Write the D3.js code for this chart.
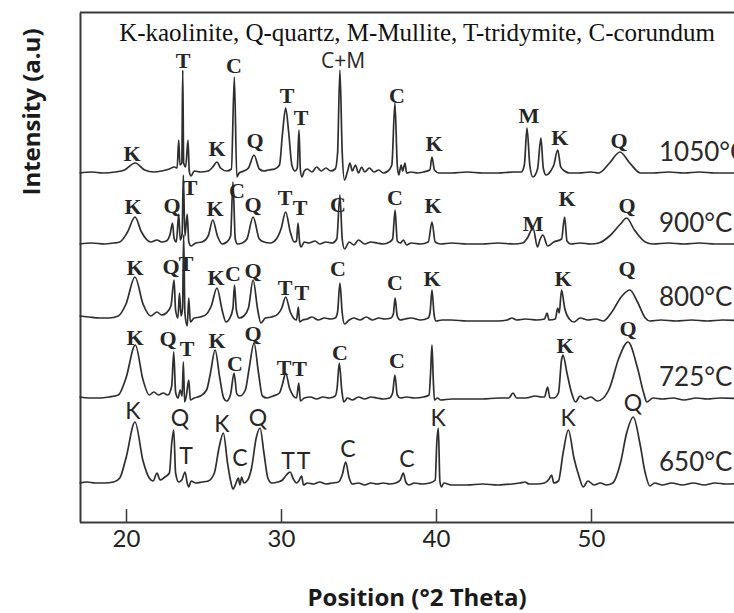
<!DOCTYPE html>
<html>
<head>
<meta charset="utf-8">
<script src="https://cdn.jsdelivr.net/npm/d3@7"></script>
<style>
  body { margin: 0; background: #fff; }
  svg { display: block; }
</style>
</head>
<body>
<svg id="chart" width="734" height="613"></svg>
<script>
// ---- data: [2theta, intensity above the trace baseline] ----
var temps = ['1050°C', '900°C', '800°C', '725°C', '650°C'];
var offsets = [349, 278, 204, 124, 39]; // vertical stacking of each pattern (a.u.)

var t1050 = [
  [17.0,0],[17.8,1],[18.5,0],[19.3,1],[19.9,3],[20.6,10],[21.2,3],[21.8,1],[22.3,2],[22.8,4],
  [23.1,6],[23.3,5],[23.4,33],[23.48,8],[23.6,10],[23.66,103],[23.72,10],[23.85,6],[24.0,33],[24.08,2],
  [24.2,-3],[24.4,2],[24.8,1],[25.3,2],[25.6,6],[25.87,11],[26.1,5],[26.5,2],[26.8,4],[26.99,96],
  [27.15,-4],[27.3,0],[27.6,2],[27.9,5],[28.26,18],[28.6,4],[28.9,2],[29.2,3],[29.6,4],[29.9,8],
  [30.1,40],[30.3,65],[30.5,40],[30.7,8],[30.9,2],[31.05,5],[31.16,43],[31.25,3],[31.35,-4],[31.5,2],
  [31.7,4],[32.0,1],[32.3,6],[32.6,2],[32.9,5],[33.2,2],[33.5,4],[33.65,20],[33.8,103],[33.95,20],
  [34.1,-7],[34.3,2],[34.45,10],[34.6,2],[34.8,8],[35.0,0],[35.2,6],[35.4,1],[35.7,5],[36.0,1],
  [36.3,3],[36.6,0],[36.9,2],[37.15,8],[37.35,70],[37.5,8],[37.6,-2],[37.75,8],[37.85,2],[38.0,10],
  [38.1,0],[38.4,1],[38.8,0],[39.2,1],[39.6,3],[39.74,16],[39.9,3],[40.2,0],[41,0],[42,1],
  [43,0],[44,0],[45,1],[45.5,1],[45.7,8],[45.87,45],[46.05,8],[46.25,-4],[46.55,4],[46.77,35],
  [46.92,5],[47.1,-2],[47.4,2],[47.6,8],[47.85,23],[48.05,6],[48.3,2],[48.6,0],[49.2,0],[50,1],
  [50.5,0],[51.2,10],[51.87,21],[52.5,10],[53.2,0],[54,0],[55,1],[56,0],[57,1],[58,0],[60,0]
];
var t900 = [
  [17.0,0],[17.8,1],[18.6,0],[19.2,1],[19.6,2],[20.1,12],[20.58,27],[21.0,12],[21.6,2],[22.0,4],
  [22.3,2],[22.6,3],[22.85,10],[23.0,21],[23.1,6],[23.25,2],[23.4,30],[23.5,4],[23.62,10],[23.7,69],
  [23.8,8],[23.95,30],[24.05,2],[24.2,-2],[24.5,1],[24.9,2],[25.3,8],[25.6,24],[25.9,8],[26.2,0],
  [26.5,2],[26.75,8],[26.9,62],[27.05,5],[27.2,0],[27.5,1],[27.8,5],[28.2,27],[28.6,5],[28.9,2],
  [29.3,1],[29.7,5],[30.0,15],[30.3,32],[30.6,12],[30.85,2],[31.0,3],[31.1,21],[31.2,2],[31.3,-3],
  [31.5,2],[31.8,1],[32.2,3],[32.5,0],[32.9,2],[33.3,1],[33.6,5],[33.8,49],[33.95,5],[34.1,-5],
  [34.4,2],[34.7,-1],[35.0,4],[35.4,0],[35.8,2],[36.2,1],[36.6,0],[37.0,2],[37.2,5],[37.36,34],
  [37.5,3],[37.7,1],[37.9,4],[38.1,-1],[38.4,1],[39.0,0],[39.5,2],[39.74,22],[39.95,2],[40.3,0],
  [41,1],[42,0],[43,0],[44,1],[45,0],[45.6,1],[45.9,6],[46.26,16],[46.55,-3],[46.7,4],
  [46.9,9],[47.2,-2],[47.6,2],[48.1,5],[48.3,27],[48.45,3],[48.7,0],[49.3,1],[50,0],[50.5,1],
  [51.2,8],[51.9,20],[52.3,26],[52.8,14],[53.5,2],[54,0],[55,1],[56,0],[57,1],[58,0],[60,0]
];
var t800 = [
  [17.0,2],[17.6,1],[18.3,0],[18.9,0],[19.5,2],[20.0,14],[20.58,41],[21.1,14],[21.6,2],[22.0,6],
  [22.3,3],[22.6,5],[22.9,12],[23.1,38],[23.2,8],[23.35,0],[23.45,25],[23.55,2],[23.65,10],[23.72,83],
  [23.8,5],[23.95,-8],[24.05,20],[24.15,-4],[24.4,0],[24.8,1],[25.2,4],[25.5,12],[25.87,30],[26.2,8],
  [26.45,-4],[26.7,0],[26.9,10],[27.0,33],[27.12,8],[27.3,0],[27.6,2],[27.9,10],[28.2,38],[28.5,8],
  [28.7,-5],[29.0,0],[29.4,1],[29.8,4],[30.05,10],[30.3,21],[30.6,6],[30.8,0],[31.0,-2],[31.12,11],
  [31.2,-4],[31.4,-2],[31.7,-1],[32.0,1],[32.4,-2],[32.8,0],[33.2,-1],[33.5,0],[33.65,6],[33.8,35],
  [33.95,5],[34.1,-6],[34.4,-2],[34.7,0],[35.1,-2],[35.5,1],[35.9,-2],[36.3,0],[36.7,-1],[37.1,0],
  [37.25,4],[37.36,20],[37.5,2],[37.7,-2],[38.0,-1],[38.4,0],[39.0,-2],[39.5,0],[39.62,6],[39.74,28],
  [39.88,3],[40.0,-3],[40.4,-2],[41,-2],[42,-3],[43,-3],[44,-3],[44.6,-2],[44.9,0],[45.2,-2],
  [45.8,-1],[46.5,-2],[47.0,-1],[47.16,5],[47.3,-2],[47.7,-1],[47.85,10],[47.95,5],[48.1,28],[48.3,10],
  [48.6,-1],[48.9,-4],[49.3,0],[49.8,-2],[50.3,-1],[50.8,-3],[51.3,5],[52.0,22],[52.5,28],[53.0,16],
  [53.5,0],[53.8,-3],[54.5,-2],[55.5,-3],[56.5,-2],[57.5,-3],[58.5,-2],[60,-3]
];
var t725 = [
  [17.0,1],[17.6,0],[18.3,0],[18.9,1],[19.5,3],[20.0,20],[20.6,53],[21.1,18],[21.5,3],[21.8,6],
  [22.1,3],[22.4,5],[22.7,3],[22.95,12],[23.08,46],[23.2,6],[23.35,0],[23.5,8],[23.62,2],[23.7,36],
  [23.78,-4],[23.9,3],[24.05,18],[24.15,-2],[24.4,0],[24.8,2],[25.2,8],[25.45,25],[25.75,48],[26.05,20],
  [26.3,0],[26.5,-3],[26.75,4],[26.97,25],[27.15,4],[27.35,2],[27.7,8],[27.95,30],[28.26,55],[28.55,25],
  [28.8,2],[29.1,0],[29.5,2],[29.9,5],[30.1,14],[30.3,25],[30.55,10],[30.8,2],[31.0,0],[31.15,15],
  [31.25,-3],[31.5,0],[31.9,1],[32.3,-1],[32.7,1],[33.1,0],[33.5,2],[33.62,10],[33.76,35],[33.92,8],
  [34.05,-4],[34.3,0],[34.6,-2],[35.0,1],[35.4,-1],[35.8,1],[36.2,0],[36.6,-1],[37.0,0],[37.2,5],
  [37.35,23],[37.5,3],[37.7,0],[38.1,1],[38.6,0],[39.2,1],[39.55,3],[39.65,25],[39.74,53],[39.82,20],
  [39.9,-2],[40.1,0],[40.3,-2],[41,-1],[42,-1],[43,-1],[44.0,0],[44.7,0],[44.97,5],[45.2,0],
  [45.8,0],[46.4,2],[46.8,1],[47.0,1],[47.2,11],[47.35,0],[47.6,0],[47.9,5],[48.1,38],[48.19,43],
  [48.45,25],[48.75,5],[49.0,-4],[49.3,2],[49.6,-1],[50.0,1],[50.4,-3],[50.8,0],[51.2,10],[51.8,40],
  [52.39,56],[53.0,30],[53.4,5],[53.6,-4],[54,0],[54.6,-1],[55.3,0],[56,-2],[56.8,0],[57.5,-1],
  [58.3,0],[60,-1]
];
var t650 = [
  [17.0,0],[17.5,1],[18.0,0],[18.6,0],[19.2,1],[19.6,5],[20.0,25],[20.58,61],[21.1,22],[21.5,5],
  [21.75,2],[22.0,10],[22.2,3],[22.5,6],[22.8,10],[22.95,40],[23.08,53],[23.2,10],[23.4,1],[23.6,3],
  [23.81,11],[23.95,0],[24.05,-4],[24.2,2],[24.5,0],[24.9,1],[25.3,2],[25.7,10],[26.0,35],[26.28,50],
  [26.55,20],[26.75,2],[26.9,-6],[27.1,0],[27.25,5],[27.35,-2],[27.46,6],[27.6,0],[27.85,3],[28.1,15],
  [28.4,45],[28.65,55],[28.9,30],[29.15,5],[29.4,0],[29.8,1],[30.1,3],[30.35,8],[30.58,11],[30.8,4],
  [31.0,0],[31.15,2],[31.33,7],[31.45,-2],[31.7,0],[32.1,-1],[32.5,1],[32.9,-1],[33.3,0],[33.7,1],
  [33.95,8],[34.17,21],[34.4,5],[34.6,-1],[35.0,0],[35.4,-2],[35.8,0],[36.2,-1],[36.6,0],[37.0,-1],
  [37.4,0],[37.7,3],[37.89,10],[38.05,1],[38.25,-2],[38.6,0],[39.1,-1],[39.6,0],[39.95,3],[40.05,40],
  [40.15,55],[40.25,2],[40.35,-4],[40.5,0],[41,-2],[42,-2],[43,-1],[44,-2],[44.9,-1],[45.4,0],
  [45.74,1],[46.0,-1],[46.5,-1],[47.0,0],[47.3,4],[47.46,8],[47.6,0],[47.9,2],[48.2,30],[48.54,53],
  [48.9,25],[49.2,8],[49.5,-4],[49.8,2],[50.2,-2],[50.6,0],[51.0,-2],[51.4,0],[51.9,20],[52.3,50],
  [52.73,66],[53.15,40],[53.5,10],[53.8,-3],[54.1,0],[54.6,-2],[55.2,0],[55.9,-2],[56.6,0],[57.3,-2],
  [58,0],[58.7,-1],[60,0]
];
var patterns = [t1050, t900, t800, t725, t650];

// peak labels: [phase, 2theta, height (a.u., same units as the y scale)]
var labels1050 = [['K',20.39,369],['T',23.68,462],['K',25.87,374],['C',26.97,457],['Q',28.32,382],
  ['T',30.39,427],['T',31.29,405],['C',37.48,427],['K',39.87,379],['M',45.99,407],['K',47.99,385],['Q',51.81,382]];
var labels900 = [['K',20.45,316],['Q',22.97,317],['T',24.13,335],['K',25.74,314],['C',27.16,332],['Q',28.19,318],
  ['T',30.26,325],['T',31.23,315],['C',33.68,318],['C',37.35,325],['K',39.81,317],['M',46.26,299],['K',48.45,324],['Q',52.32,317]];
var labels800 = [['K',20.58,255],['Q',22.9,256],['T',23.87,259],['K',25.81,245],['C',26.9,249],['Q',28.19,252],
  ['T',30.26,235],['T',31.35,230],['C',33.68,254],['C',37.35,240],['K',39.74,244],['K',48.19,244],['Q',52.32,254]];
var labels725 = [['K',20.58,185],['Q',22.71,184],['T',23.94,174],['K',25.87,182],['C',27.03,159],['Q',28.19,189],
  ['T',30.2,155],['T',31.2,154],['C',33.81,170],['C',37.48,162],['K',48.32,177],['Q',52.39,194]];
var labels650 = [['K',20.45,112],['Q',23.48,105],['T',23.87,67],['K',26.19,99],['C',27.35,65],['Q',28.52,105],
  ['T',30.45,62],['T',31.45,62],['C',34.32,74],['C',38.13,64],['K',40.13,105],['K',48.52,105],['Q',52.71,120]];
var mixLabel = ['C+M', 34.0, 462];

var legendText = 'K-kaolinite, Q-quartz, M-Mullite, T-tridymite, C-corundum';
var xTicks = [20, 30, 40, 50];

// ---- layout ----
var svg = d3.select('#chart');
var ink = '#262626';

var x = d3.scaleLinear().domain([17, 60]).range([79.5, 746]);
var y = d3.scaleLinear().domain([0, 510]).range([522, 12]);

// frame: bottom axis with inward ticks, left and top lines
var xAxis = d3.axisBottom(x).tickValues(xTicks).tickSizeInner(-13).tickSizeOuter(0).tickPadding(8);
var gx = svg.append('g').attr('transform', 'translate(0,522)').call(xAxis);
gx.select('.domain').attr('stroke', '#3a3a3a').attr('stroke-width', 2);
gx.selectAll('.tick line').attr('stroke', '#3a3a3a').attr('stroke-width', 1.5);
gx.selectAll('.tick text').attr('fill', '#222').style('font-family', 'Lato, "Open Sans", sans-serif').style('font-size', '24px');

svg.append('g').attr('transform', 'translate(80,0)')
  .call(d3.axisLeft(y).tickValues([]).tickSizeOuter(0))
  .select('.domain').attr('stroke', '#3a3a3a').attr('stroke-width', 2);
svg.append('g').attr('transform', 'translate(0,12)')
  .call(d3.axisTop(x).tickValues([]).tickSizeOuter(0))
  .select('.domain').attr('stroke', '#3a3a3a').attr('stroke-width', 2);

// patterns
var line = d3.line()
  .x(function(d) { return x(d[0]); })
  .curve(d3.curveMonotoneX);

var traces = svg.append('g');
patterns.forEach(function(pts, i) {
  traces.append('path')
    .datum(pts)
    .attr('fill', 'none')
    .attr('stroke', '#2e2e2e')
    .attr('stroke-width', 1.7)
    .attr('stroke-linejoin', 'round')
    .attr('d', line.y(function(d) { return y(d[1] + offsets[i]); }));
});

// temperature labels (the top one runs off the right edge, as in the source)
svg.append('g').selectAll('text')
  .data(temps)
  .enter().append('text')
  .attr('x', 659)
  .attr('y', function(d, i) { return y(offsets[i] + 19); })
  .attr('dominant-baseline', 'middle')
  .style('font-family', 'Lato, "Open Sans", sans-serif')
  .style('font-size', '26px')
  .attr('fill', '#2a2a2a')
  .text(function(d) { return d; });

// peak labels
var serifLabels = [labels1050, labels900, labels800, labels725];
serifLabels.forEach(function(set) {
  svg.append('g').selectAll('text')
    .data(set)
    .enter().append('text')
    .attr('x', function(d) { return x(d[1]); })
    .attr('y', function(d) { return y(d[2]); })
    .attr('text-anchor', 'middle')
    .attr('dominant-baseline', 'central')
    .style('font-family', '"Liberation Serif", "DejaVu Serif", serif')
    .style('font-weight', 'bold')
    .style('font-size', '22px')
    .attr('fill', ink)
    .text(function(d) { return d[0]; });
});
svg.append('g').selectAll('text')
  .data(labels650)
  .enter().append('text')
  .attr('x', function(d) { return x(d[1]); })
  .attr('y', function(d) { return y(d[2]); })
  .attr('text-anchor', 'middle')
  .attr('dominant-baseline', 'central')
  .style('font-family', 'Lato, "Open Sans", sans-serif')
  .style('font-size', '23px')
  .attr('fill', ink)
  .text(function(d) { return d[0]; });

svg.append('text')
  .attr('x', x(mixLabel[1]))
  .attr('y', y(mixLabel[2]))
  .attr('text-anchor', 'middle')
  .attr('dominant-baseline', 'central')
  .style('font-family', '"Open Sans", sans-serif')
  .style('font-size', '21px')
  .attr('fill', ink)
  .text(mixLabel[0]);

// legend line at top
svg.append('text')
  .attr('x', 417)
  .attr('y', 32)
  .attr('text-anchor', 'middle')
  .attr('dominant-baseline', 'central')
  .style('font-family', '"Liberation Serif", serif')
  .style('font-size', '25px')
  .attr('fill', '#111')
  .text(legendText);

// axis titles
svg.append('text')
  .attr('x', 417)
  .attr('y', 596)
  .attr('text-anchor', 'middle')
  .attr('dominant-baseline', 'central')
  .style('font-family', '"Open Sans", sans-serif')
  .style('font-weight', 'bold')
  .style('font-size', '24px')
  .attr('fill', '#1a1a1a')
  .text('Position (°2 Theta)');

svg.append('text')
  .attr('transform', 'translate(30,112) rotate(-90)')
  .attr('text-anchor', 'middle')
  .attr('dominant-baseline', 'central')
  .style('font-family', '"Open Sans", sans-serif')
  .style('font-weight', 'bold')
  .style('font-size', '24px')
  .attr('fill', '#1a1a1a')
  .text('Intensity (a.u)');
</script>
</body>
</html>
